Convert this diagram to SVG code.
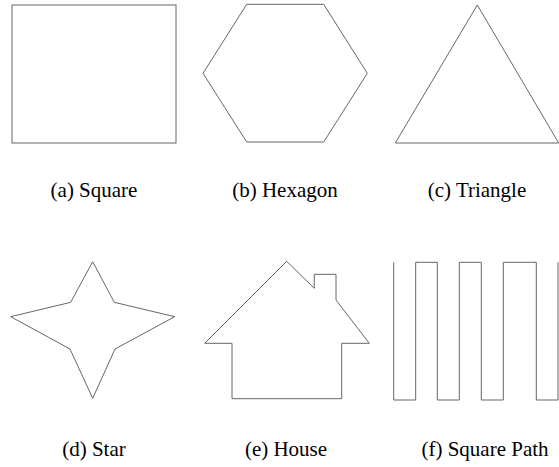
<svg xmlns="http://www.w3.org/2000/svg" width="559" height="467" viewBox="0 0 559 467">
<style>
.s{fill:none;stroke:#666;stroke-width:1;stroke-linejoin:miter}
.l{font-family:"Liberation Serif","Times New Roman","DejaVu Serif",serif;font-size:21px;fill:#000;text-anchor:middle}
</style>
<rect width="559" height="467" fill="#fff"/>
<g id="square"><rect class="s" x="12" y="5" width="164" height="138"/><text class="l" x="94" y="197">(a) Square</text></g>
<g id="hexagon"><polygon class="s" points="246.7,4.3 323.7,4.3 367.3,73.3 323.7,142 246.7,142 203,73.3"/><text class="l" x="285" y="197">(b) Hexagon</text></g>
<g id="triangle"><polygon class="s" points="477.3,5 558.7,143 395.3,143"/><text class="l" x="477" y="197">(c) Triangle</text></g>
<g id="star"><polygon class="s" points="92.7,261.7 114.3,302.3 174.7,316.7 115,349 92.7,398.3 70,349 10.7,316.7 70.7,302.3"/><text class="l" x="94" y="456">(d) Star</text></g>
<g id="house"><polygon class="s" points="286.7,261.3 314.3,288.3 314.3,274.3 336,274.3 336,300 369.3,343.3 341.7,343.3 341.7,398.7 232,398.7 232,343.3 204.7,343.3"/><text class="l" x="286" y="456">(e) House</text></g>
<g id="squarepath"><polyline class="s" points="393.7,262.3 393.7,400 415.7,400 415.7,262.3 437.3,262.3 437.3,400 459.3,400 459.3,262.3 481.3,262.3 481.3,400 503.3,400 503.3,262.3 536.3,262.3 536.3,400 558,400 558,262.3"/><text class="l" x="485" y="456">(f) Square Path</text></g>
</svg>
